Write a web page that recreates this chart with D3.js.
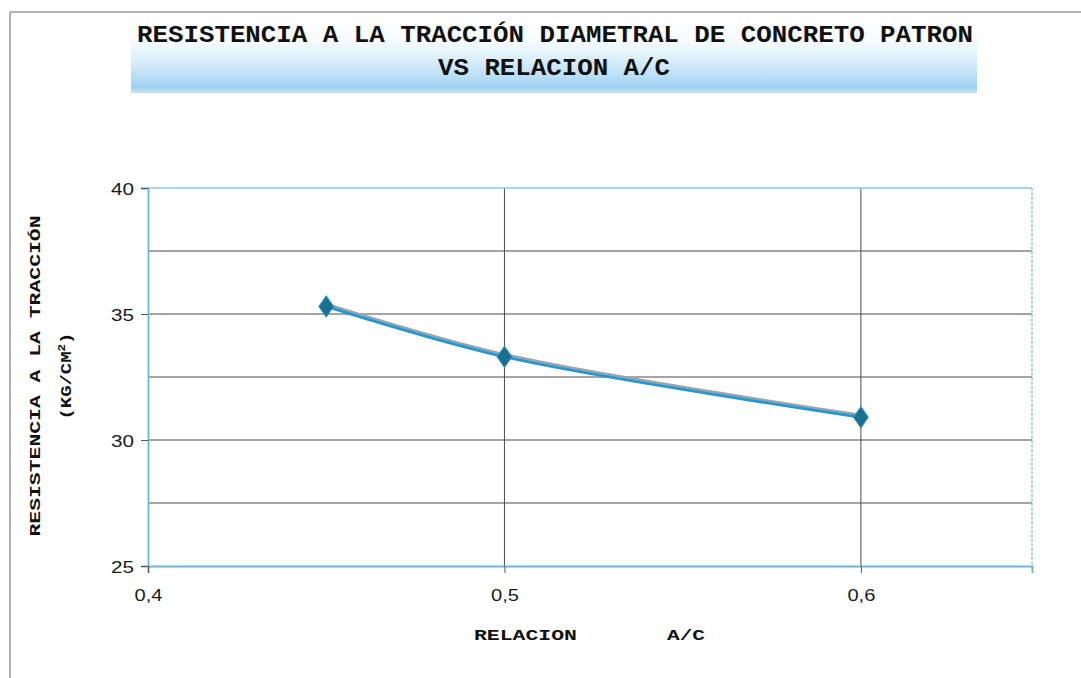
<!DOCTYPE html>
<html>
<head>
<meta charset="utf-8">
<script src="https://cdn.jsdelivr.net/npm/d3@7"></script>
<style>
  html, body { margin: 0; padding: 0; background: #fff; }
  svg { display: block; }
</style>
</head>
<body>
<svg id="chart" width="1081" height="678"></svg>
<script>
// Data: water/cement ratio vs. diametral tensile strength
const ratios = [0.45, 0.5, 0.6];
const strength = [35.3, 33.3, 30.9];

// Axis setup
const xTicks = [0.4, 0.5, 0.6];
const xTickLabels = ["0,4", "0,5", "0,6"];
const xMin = 0.4, xMax = 0.648;
const yTicks = [25, 30, 35, 40];
const yGridValues = [27.5, 30, 32.5, 35, 37.5];
const yMin = 25, yMax = 40;

const titleLines = ["RESISTENCIA A LA TRACCIÓN DIAMETRAL DE CONCRETO PATRON", "VS RELACION A/C"];
const yTitleLines = ["RESISTENCIA A LA TRACCIÓN", "(KG/CM", "2", ")"];
const xTitleParts = ["RELACION", "A/C"];

const svg = d3.select("#chart");
const defs = svg.append("defs");

// Outer page frame
svg.append("line").attr("x1", 10).attr("y1", 12).attr("x2", 1081).attr("y2", 12)
  .attr("stroke", "#9a9a9a").attr("stroke-width", 1.5);
svg.append("line").attr("x1", 10).attr("y1", 12).attr("x2", 10).attr("y2", 678)
  .attr("stroke", "#9a9a9a").attr("stroke-width", 1.5);

// Title band with vertical blue fade
const grad = defs.append("linearGradient").attr("id", "titleBand")
  .attr("x1", 0).attr("y1", 0).attr("x2", 0).attr("y2", 1);
[[0, "#ffffff"], [0.3, "#f6fbfe"], [0.55, "#d9eefb"], [0.8, "#b6dcf4"], [0.92, "#9ecff0"], [1, "#c6e5f8"]]
  .forEach(([o, c]) => grad.append("stop").attr("offset", o).attr("stop-color", c));
svg.append("rect").attr("x", 131).attr("y", 20).attr("width", 846).attr("height", 73)
  .attr("fill", "url(#titleBand)");

const monoFont = "'Liberation Mono', 'Courier New', monospace";
const sansFont = "'Liberation Sans', Arial, sans-serif";

svg.append("text").attr("x", 555).attr("y", 42).attr("text-anchor", "middle")
  .attr("font-family", monoFont).attr("font-weight", "bold").attr("font-size", 24)
  .attr("fill", "#111").attr("textLength", 836).attr("lengthAdjust", "spacingAndGlyphs")
  .text(titleLines[0]);
svg.append("text").attr("x", 554).attr("y", 75).attr("text-anchor", "middle")
  .attr("font-family", monoFont).attr("font-weight", "bold").attr("font-size", 24)
  .attr("fill", "#111").attr("textLength", 232).attr("lengthAdjust", "spacingAndGlyphs")
  .text(titleLines[1]);

// Plot scales
const plot = { left: 148, top: 188, right: 1032, bottom: 566 };
const x = d3.scaleLinear().domain([xMin, xMax]).range([plot.left, plot.right]);
const y = d3.scaleLinear().domain([yMin, yMax]).range([plot.bottom, plot.top]);

const g = svg.append("g");

// Horizontal gridlines
g.selectAll(".hgrid").data(yGridValues).join("line")
  .attr("x1", plot.left).attr("x2", plot.right)
  .attr("y1", d => y(d)).attr("y2", d => y(d))
  .attr("stroke", "#4a4a4a").attr("stroke-width", 1);

// Vertical gridlines
g.selectAll(".vgrid").data(xTicks.filter(d => d > xMin)).join("line")
  .attr("x1", d => x(d)).attr("x2", d => x(d))
  .attr("y1", plot.top).attr("y2", plot.bottom)
  .attr("stroke", "#4a4a4a").attr("stroke-width", 1);

// Plot area border (top and right) in light blue
g.append("line").attr("x1", plot.left).attr("x2", plot.right).attr("y1", plot.top).attr("y2", plot.top)
  .attr("stroke", "#8cc6e6").attr("stroke-width", 1.5);
g.append("line").attr("x1", plot.right).attr("x2", plot.right).attr("y1", plot.top).attr("y2", plot.bottom)
  .attr("stroke", "#8cc6e6").attr("stroke-width", 1.5).attr("stroke-dasharray", "3,1.5");

// Y axis
const yAxis = d3.axisLeft(y).tickValues(yTicks).tickSize(7).tickFormat(d3.format("d"));
const yAxisG = svg.append("g").attr("transform", `translate(${plot.left},0)`).call(yAxis);
yAxisG.select(".domain").attr("stroke", "#6fb3dc").attr("stroke-width", 1.8);
yAxisG.selectAll(".tick line").attr("stroke", "#555").attr("stroke-width", 1);
yAxisG.selectAll(".tick text").attr("font-family", sansFont)
  .attr("font-size", 17).attr("fill", "#1a1a1a").attr("x", -14).attr("dy", "0.36em")
  .attr("textLength", 23).attr("lengthAdjust", "spacingAndGlyphs");

// X axis
const xAxis = d3.axisBottom(x).tickValues(xTicks).tickSize(7)
  .tickFormat((d, i) => xTickLabels[i]);
const xAxisG = svg.append("g").attr("transform", `translate(0,${plot.bottom})`).call(xAxis);
xAxisG.select(".domain").attr("stroke", "#6fb3dc").attr("stroke-width", 2);
xAxisG.selectAll(".tick line").attr("stroke", "#555").attr("stroke-width", 1);
xAxisG.selectAll(".tick text").attr("font-family", sansFont)
  .attr("font-size", 17).attr("fill", "#1a1a1a").attr("y", 23)
  .attr("textLength", 28).attr("lengthAdjust", "spacingAndGlyphs");

// Series line: soft grey shadow beneath a blue smoothed line
const pts = ratios.map((r, i) => [r, strength[i]]);
const lineGen = d3.line().x(d => x(d[0])).y(d => y(d[1])).curve(d3.curveCatmullRom.alpha(0.5));
svg.append("path").attr("d", lineGen(pts)).attr("fill", "none")
  .attr("stroke", "#a3a3a3").attr("stroke-width", 3.5)
  .attr("transform", "translate(1,-1.8)");
svg.append("path").attr("d", lineGen(pts)).attr("fill", "none")
  .attr("stroke", "#1f9ad8").attr("stroke-width", 2.8).attr("stroke-linecap", "round");

// Diamond markers
const diamond = d3.symbol().type(d3.symbolDiamond).size(140);
svg.selectAll(".marker").data(pts).join("path")
  .attr("d", diamond)
  .attr("transform", d => `translate(${x(d[0])},${y(d[1])}) scale(1.15,0.95)`)
  .attr("fill", "#1a6f8f").attr("stroke", "#2a8fc0").attr("stroke-width", 1);

// Y axis title (two lines, rotated)
const yT = svg.append("g").attr("transform", "translate(0,376) rotate(-90)");
yT.append("text").attr("x", 0).attr("y", 40).attr("text-anchor", "middle")
  .attr("font-family", monoFont).attr("font-weight", "bold").attr("font-size", 15)
  .attr("fill", "#111").attr("textLength", 321).attr("lengthAdjust", "spacingAndGlyphs")
  .text(yTitleLines[0]);
const yT2 = yT.append("text").attr("x", 0).attr("y", 71).attr("text-anchor", "middle")
  .attr("font-family", monoFont).attr("font-weight", "bold").attr("font-size", 15)
  .attr("fill", "#111").attr("textLength", 87).attr("lengthAdjust", "spacingAndGlyphs");
yT2.append("tspan").text(yTitleLines[1]);
yT2.append("tspan").attr("dy", -6).attr("font-size", 10).text(yTitleLines[2]);
yT2.append("tspan").attr("dy", 6).text(yTitleLines[3]);

// X axis title
svg.append("text").attr("x", 474).attr("y", 640)
  .attr("font-family", monoFont).attr("font-weight", "bold").attr("font-size", 15)
  .attr("fill", "#111").attr("textLength", 103).attr("lengthAdjust", "spacingAndGlyphs")
  .text(xTitleParts[0]);
svg.append("text").attr("x", 667).attr("y", 640)
  .attr("font-family", monoFont).attr("font-weight", "bold").attr("font-size", 15)
  .attr("fill", "#111").attr("textLength", 38).attr("lengthAdjust", "spacingAndGlyphs")
  .text(xTitleParts[1]);
</script>
</body>
</html>
